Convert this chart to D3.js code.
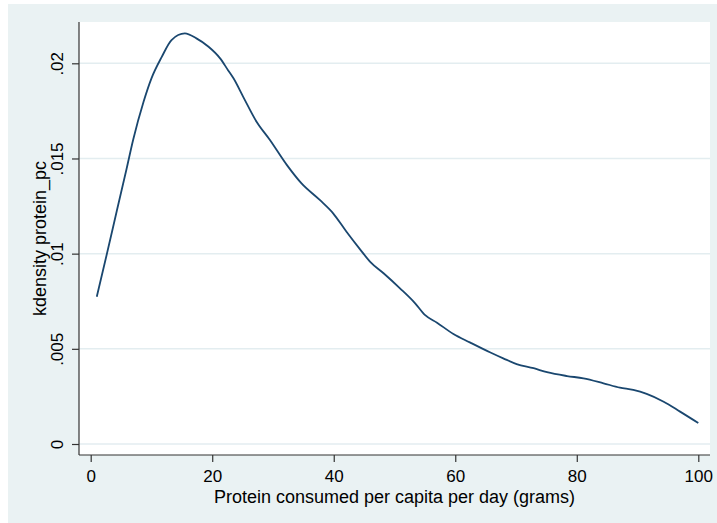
<!DOCTYPE html>
<html>
<head>
<meta charset="utf-8">
<script src="https://cdn.jsdelivr.net/npm/d3@7"></script>
<style>
  html, body { margin: 0; padding: 0; background: #ffffff; }
  svg { display: block; font-family: "Liberation Sans", Arial, sans-serif; }
</style>
</head>
<body>
<svg id="chart" width="717" height="523"></svg>
<script>
// ---- Data ----
const protein = [1, 2.6, 4.3, 5.9, 7.0, 8.7, 10.0, 11.7, 13.3, 15.5, 17.4, 19.4, 21.3, 22.6, 23.5, 25.1, 27.3, 29.5, 32.3, 34.7, 37.7, 39.9, 42.1, 44.3, 46.0, 48.2, 50.9, 53.4, 55.0, 57.0, 59.7, 62.4, 65.7, 67.9, 70.1, 72.9, 75.1, 78.4, 81.1, 84.4, 87.1, 89.3, 91.5, 94.3, 97.0, 100];
const density = [0.00774, 0.00990, 0.01225, 0.01445, 0.01600, 0.01798, 0.01921, 0.02034, 0.02122, 0.02157, 0.02131, 0.02087, 0.02026, 0.01964, 0.01921, 0.01824, 0.01693, 0.01597, 0.01465, 0.01369, 0.01282, 0.01212, 0.01115, 0.01024, 0.00957, 0.00897, 0.00818, 0.00739, 0.00678, 0.00637, 0.00578, 0.00534, 0.00482, 0.00450, 0.00420, 0.00398, 0.00377, 0.00357, 0.00345, 0.00319, 0.00296, 0.00284, 0.00263, 0.00222, 0.00170, 0.00110];
const xTicks = [0, 20, 40, 60, 80, 100];
const yTicks = [0, 0.005, 0.01, 0.015, 0.02];
const yTickLabels = ["0", ".005", ".01", ".015", ".02"];
const xTitle = "Protein consumed per capita per day (grams)";
const yTitle = "kdensity protein_pc";

// ---- Layout ----
const svg = d3.select("#chart");
const bg = { x: 8, y: 4, w: 709, h: 519 };
const plot = { left: 79, right: 710, top: 22, bottom: 455 };

const x = d3.scaleLinear().domain([0, 100]).range([90.7, 698.3]);
const y = d3.scaleLinear().domain([0, 0.02]).range([444, 63.3]);

// outer background
svg.append("rect").attr("x", bg.x).attr("y", bg.y).attr("width", bg.w).attr("height", bg.h)
  .attr("fill", "#eaf2f3");
// plot region
svg.append("rect").attr("x", plot.left).attr("y", plot.top)
  .attr("width", plot.right - plot.left).attr("height", plot.bottom - plot.top)
  .attr("fill", "#ffffff");

// gridlines
svg.append("g").selectAll("line").data(yTicks).join("line")
  .attr("x1", plot.left).attr("x2", plot.right)
  .attr("y1", d => y(d)).attr("y2", d => y(d))
  .attr("stroke", "#e3edf0").attr("stroke-width", 1.5);

// y axis
const yAxis = svg.append("g").attr("transform", `translate(${plot.left},0)`)
  .call(d3.axisLeft(y).tickValues(yTicks).tickSize(7).tickFormat((d, i) => yTickLabels[i]));
yAxis.select(".domain").remove();
yAxis.selectAll(".tick line").attr("stroke", "#333").attr("stroke-width", 1.2);
yAxis.selectAll(".tick text")
  .attr("x", null).attr("dy", null)
  .attr("transform", `translate(${63 - plot.left},0) rotate(-90)`)
  .attr("text-anchor", "middle")
  .attr("font-size", 17).attr("fill", "#000")
  .attr("font-family", "'Liberation Sans', Arial, sans-serif");
svg.append("line").attr("x1", plot.left).attr("x2", plot.left)
  .attr("y1", plot.top).attr("y2", plot.bottom)
  .attr("stroke", "#333").attr("stroke-width", 1.2);

// x axis
const xAxis = svg.append("g").attr("transform", `translate(0,${plot.bottom})`)
  .call(d3.axisBottom(x).tickValues(xTicks).tickSize(7).tickFormat(d3.format("d")));
xAxis.select(".domain").remove();
xAxis.selectAll(".tick line").attr("stroke", "#333").attr("stroke-width", 1.2);
xAxis.selectAll(".tick text")
  .attr("y", 482 - plot.bottom).attr("dy", null)
  .attr("font-size", 17).attr("fill", "#000")
  .attr("font-family", "'Liberation Sans', Arial, sans-serif");
svg.append("line").attr("x1", plot.left).attr("x2", plot.right)
  .attr("y1", plot.bottom).attr("y2", plot.bottom)
  .attr("stroke", "#333").attr("stroke-width", 1.2);

// density line
const line = d3.line().x((d, i) => x(protein[i])).y(d => y(d)).curve(d3.curveMonotoneX);
svg.append("path").datum(density)
  .attr("d", line)
  .attr("fill", "none").attr("stroke", "#1a476f").attr("stroke-width", 1.8)
  .attr("stroke-linejoin", "round");

// axis titles
svg.append("text").attr("x", (plot.left + plot.right) / 2).attr("y", 502.5)
  .attr("text-anchor", "middle").attr("font-size", 18).attr("fill", "#000")
  .text(xTitle);
svg.append("text")
  .attr("transform", `translate(46,${(plot.top + plot.bottom) / 2}) rotate(-90)`)
  .attr("text-anchor", "middle").attr("font-size", 18).attr("fill", "#000")
  .text(yTitle);
</script>
</body>
</html>
